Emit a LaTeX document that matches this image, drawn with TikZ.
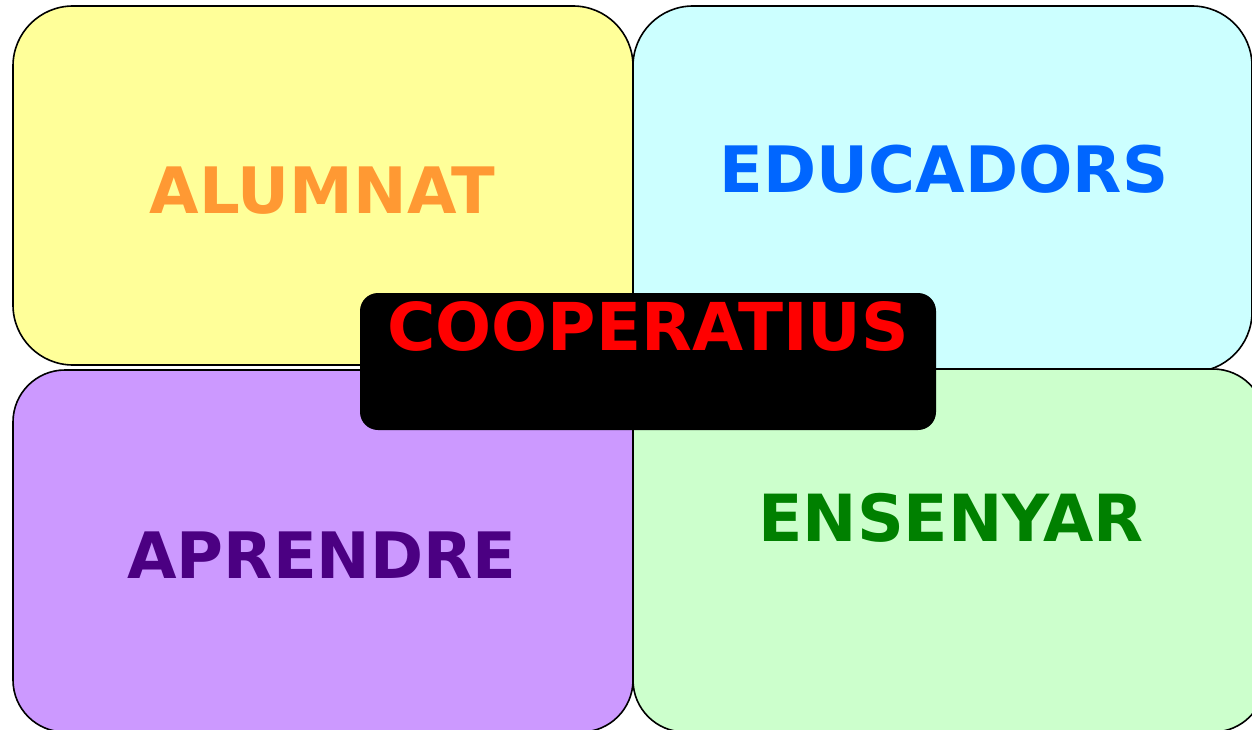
\documentclass[tikz,border=0pt]{standalone}
\usepackage{fontspec}
\setmainfont{DejaVu Sans}
\usepackage{tikz}
\usetikzlibrary{positioning,calc}

\begin{document}
\begin{tikzpicture}[
            x=1pt,y=-1pt,
            panel/.style={draw=black,line width=1.6pt,rounded corners=60pt,
                rectangle,inner sep=0pt},
            word/.style={font=\fontsize{64}{64}\selectfont\bfseries,anchor=base,inner sep=0pt}
        ]

        % Define colors
        \definecolor{fillA}{HTML}{FFFF99};
        \definecolor{fillB}{HTML}{CCFFFF};
        \definecolor{fillC}{HTML}{CC99FF};
        \definecolor{fillD}{HTML}{CCFFCC};
        \definecolor{textA}{HTML}{FF9933};
        \definecolor{textB}{HTML}{0066FF};
        \definecolor{textC}{HTML}{4B0082};
        \definecolor{textD}{HTML}{008000};

        % Page size
        \useasboundingbox (0,0) rectangle (1252,730);
        \clip (0,0) rectangle (1252,730);

        % Draw the four panels
        \node[panel,fill=fillA,minimum width=620pt,minimum height=359pt] (alumnatbox) at (323,185.5) {};
        \node[panel,fill=fillB,minimum width=619pt,minimum height=366pt] (educadorsbox) at (942.5,189) {};
        \node[panel,fill=fillC,minimum width=620pt,minimum height=362pt,rounded corners=52pt] (aprendrebox) at (323,551) {};
        \node[panel,fill=fillD,minimum width=632pt,minimum height=363pt,rounded corners=52pt] (ensenyarbox) at (949,550.5) {};

        % Panel labels
        \node[word,text=textA] (alumnat) at (322.5,213) {ALUMNAT};
        \node[word,text=textB] (educadors) at (944,193) {EDUCADORS};
        \node[word,text=textC] (aprendre) at (322,578) {APRENDRE};
        \node[word,text=textD,font=\fontsize{65}{65}\selectfont\bfseries] (ensenyar) at (951,541) {ENSENYAR};

        % Draw the middle box
        \node[fill=black,rounded corners=18pt,minimum width=576pt,minimum height=137pt,inner sep=0pt] (centerbox) at (648,361.5) {};
        \node[word,text=red,font=\fontsize{66}{66}\selectfont\bfseries] (cooperatius) at (648,350) {COOPERATIUS};

        \end{tikzpicture}
\end{document}
